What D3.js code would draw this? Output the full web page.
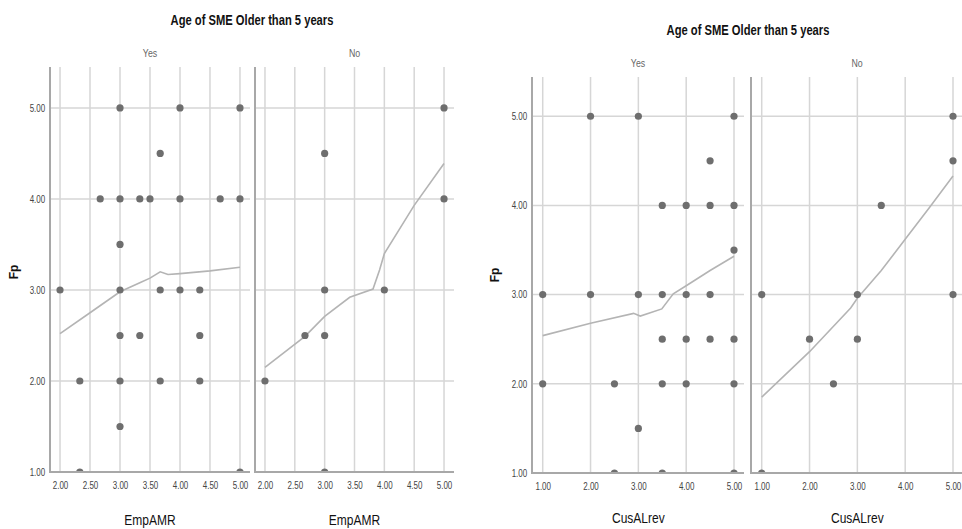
<!DOCTYPE html>
<html>
<head>
<meta charset="utf-8">
<script src="https://cdn.jsdelivr.net/npm/d3@7"></script>
<style>
  html, body { margin: 0; padding: 0; background: #fff; }
  svg { display: block; }
  text { font-family: "Liberation Sans", Arial, sans-serif; }
</style>
</head>
<body>
<svg id="chart" width="962" height="529"></svg>
<script>
// ---- Data ----
const title = "Age of SME Older than 5 years";
const panelNames = ["Yes", "No"];
const yLabel = "Fp";
const yTicks = [1, 2, 3, 4, 5];

// Chart 1: EmpAMR vs Fp
const empXLabel = "EmpAMR";
const empXTicks = [2, 2.5, 3, 3.5, 4, 4.5, 5];
const empYesPoints = [
  [3, 5], [4, 5], [5, 5], [3.67, 4.5],
  [2.67, 4], [3, 4], [3.33, 4], [3.5, 4], [4, 4], [4.67, 4], [5, 4],
  [3, 3.5],
  [2, 3], [3, 3], [3.67, 3], [4, 3], [4.33, 3],
  [3, 2.5], [3.33, 2.5], [4.33, 2.5],
  [2.33, 2], [3, 2], [3.67, 2], [4.33, 2],
  [3, 1.5],
  [2.33, 1], [5, 1]
];
const empYesFit = [
  [2, 2.52], [2.5, 2.75], [3, 2.98], [3.33, 3.08], [3.5, 3.13],
  [3.67, 3.2], [3.8, 3.17], [4, 3.18], [4.5, 3.21], [5, 3.25]
];
const empNoPoints = [
  [5, 5], [3, 4.5], [5, 4],
  [3, 3], [4, 3],
  [2.67, 2.5], [3, 2.5],
  [2, 2],
  [3, 1]
];
const empNoFit = [
  [2, 2.15], [2.67, 2.49], [3, 2.71], [3.42, 2.92], [3.81, 3.01],
  [3.92, 3.22], [4, 3.4], [4.5, 3.93], [5, 4.39]
];

// Chart 2: CusALrev vs Fp
const cusXLabel = "CusALrev";
const cusXTicks = [1, 2, 3, 4, 5];
const cusYesPoints = [
  [2, 5], [3, 5], [5, 5], [4.5, 4.5],
  [3.5, 4], [4, 4], [4.5, 4], [5, 4],
  [5, 3.5],
  [1, 3], [2, 3], [3, 3], [3.5, 3], [4, 3], [4.5, 3],
  [3.5, 2.5], [4, 2.5], [4.5, 2.5], [5, 2.5],
  [1, 2], [2.5, 2], [3.5, 2], [4, 2], [5, 2],
  [3, 1.5],
  [2.5, 1], [3.5, 1], [5, 1]
];
const cusYesFit = [
  [1, 2.54], [2, 2.68], [2.9, 2.79], [3.04, 2.76], [3.49, 2.84],
  [3.73, 3.01], [4, 3.1], [4.5, 3.27], [5, 3.43]
];
const cusNoPoints = [
  [5, 5], [5, 4.5], [3.5, 4],
  [1, 3], [3, 3], [5, 3],
  [2, 2.5], [3, 2.5],
  [2.5, 2],
  [1, 1]
];
const cusNoFit = [
  [1, 1.85], [2, 2.36], [2.86, 2.85], [3, 2.96], [3.5, 3.27],
  [4, 3.62], [4.5, 3.97], [5, 4.33]
];

// ---- Layout ----
const charts = [
  {
    titleX: 252, titleY: 25, stripY: 57,
    yRange: [472, 67], yDomain: [1, 5.45],
    yLabelX: 15, yLabelY: 272,
    xLabel: empXLabel, xTicks: empXTicks, xDomain: [1.833, 5.167],
    tickY: 490, xLabelY: 525,
    panels: [
      { name: panelNames[0], range: [50, 250], points: empYesPoints, fit: empYesFit },
      { name: panelNames[1], range: [255, 454], points: empNoPoints, fit: empNoFit }
    ]
  },
  {
    titleX: 748, titleY: 35, stripY: 67,
    yRange: [473, 77], yDomain: [1, 5.44],
    yLabelX: 496, yLabelY: 275,
    xLabel: cusXLabel, xTicks: cusXTicks, xDomain: [0.776, 5.209],
    tickY: 491, xLabelY: 523,
    panels: [
      { name: panelNames[0], range: [532, 744], points: cusYesPoints, fit: cusYesFit },
      { name: panelNames[1], range: [751, 963], points: cusNoPoints, fit: cusNoFit }
    ]
  }
];

const svg = d3.select("#chart");
const defs = svg.append("defs");
const fmt = d3.format(".2f");
const narrow = 0.8; // horizontal squeeze for condensed lettering

// text drawn at (x, y) with condensed width
function narrowText(sel, x, y) {
  return sel.append("text")
    .attr("transform", `translate(${x},${y}) scale(${narrow},1)`);
}

charts.forEach((c, ci) => {
  const g = svg.append("g");
  const y = d3.scaleLinear().domain(c.yDomain).range(c.yRange);

  narrowText(g, c.titleX, c.titleY)
    .attr("text-anchor", "middle")
    .attr("font-size", 14).attr("font-weight", "bold").attr("fill", "#111")
    .text(title);

  g.append("text")
    .attr("transform", `translate(${c.yLabelX},${c.yLabelY}) rotate(-90)`)
    .attr("text-anchor", "middle").attr("dominant-baseline", "middle")
    .attr("font-size", 12).attr("font-weight", "bold").attr("fill", "#111")
    .text(yLabel);

  // y-axis tick labels (first panel only)
  const yAxis = d3.axisLeft(y).tickValues(yTicks).tickFormat(fmt).tickSize(0).tickPadding(6);
  const ya = g.append("g").attr("transform", `translate(${c.panels[0].range[0]},0)`).call(yAxis);
  ya.select(".domain").remove();
  ya.selectAll("text").attr("font-size", 10).attr("fill", "#444")
    .attr("font-family", "'Liberation Sans', Arial, sans-serif")
    .attr("transform", `scale(${narrow},1)`);

  c.panels.forEach((p, pi) => {
    const x = d3.scaleLinear().domain(c.xDomain).range(p.range);
    const [x0, x1] = p.range;
    const [yb, yt] = c.yRange;
    const pg = g.append("g");

    // strip label
    narrowText(pg, (x0 + x1) / 2, c.stripY)
      .attr("text-anchor", "middle")
      .attr("font-size", 11).attr("fill", "#666")
      .text(p.name);

    // vertical grid lines
    pg.append("g").selectAll("line").data(c.xTicks).join("line")
      .attr("x1", d => x(d)).attr("x2", d => x(d))
      .attr("y1", yt).attr("y2", yb)
      .attr("stroke", "#d6d6d6").attr("stroke-width", 1.5);

    // horizontal grid lines
    pg.append("g").selectAll("line").data(yTicks.filter(v => v > c.yDomain[0])).join("line")
      .attr("x1", x0).attr("x2", x1)
      .attr("y1", d => y(d)).attr("y2", d => y(d))
      .attr("stroke", "#d6d6d6").attr("stroke-width", 1.5);

    // x axis
    const xAxis = d3.axisBottom(x).tickValues(c.xTicks).tickFormat(fmt).tickSize(0).tickPadding(10);
    const xa = pg.append("g").attr("transform", `translate(0,${yb})`).call(xAxis);
    xa.select(".domain").remove();
    xa.selectAll("text").attr("font-size", 10).attr("fill", "#444")
      .attr("font-family", "'Liberation Sans', Arial, sans-serif")
      .attr("transform", `scale(${narrow},1)`);

    // axis frame lines
    pg.append("line").attr("x1", x0).attr("x2", x0).attr("y1", yt).attr("y2", yb + 1)
      .attr("stroke", "#a8a8a8").attr("stroke-width", 2);
    pg.append("line").attr("x1", x0).attr("x2", x1).attr("y1", yb).attr("y2", yb)
      .attr("stroke", "#a8a8a8").attr("stroke-width", 2);

    // x axis title
    narrowText(pg, x(c.xTicks[0]) + (x(c.xTicks[c.xTicks.length - 1]) - x(c.xTicks[0])) / 2, c.xLabelY)
      .attr("text-anchor", "middle")
      .attr("font-size", 15).attr("fill", "#111")
      .text(c.xLabel);

    // clip for marks
    const clipId = `clip-${ci}-${pi}`;
    defs.append("clipPath").attr("id", clipId)
      .append("rect").attr("x", x0 + 1).attr("y", yt).attr("width", x1 - x0 + 6).attr("height", yb - yt - 1);

    const marks = pg.append("g").attr("clip-path", `url(#${clipId})`);

    // fit line
    marks.append("path")
      .datum(p.fit)
      .attr("d", d3.line().x(d => x(d[0])).y(d => y(d[1])))
      .attr("fill", "none").attr("stroke", "#b4b4b4").attr("stroke-width", 1.6);

    // points
    marks.append("g").selectAll("circle").data(p.points).join("circle")
      .attr("cx", d => x(d[0])).attr("cy", d => y(d[1]))
      .attr("r", 3.6).attr("fill", "#6e6e6e");
  });
});
</script>
</body>
</html>
